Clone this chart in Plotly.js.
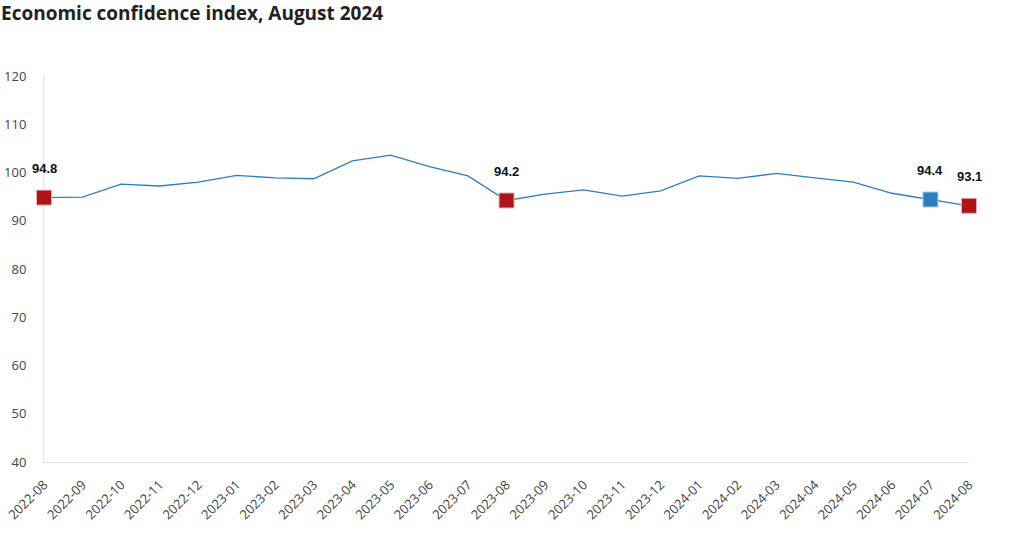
<!DOCTYPE html>
<html>
<head>
<meta charset="utf-8">
<script src="https://cdn.plot.ly/plotly-3.0.1.min.js"></script>
<style>html,body{margin:0;padding:0;background:#fff;}#chart{width:1010px;height:536px;}</style>
</head>
<body>
<div id="chart"></div>
<script>
const months = ["2022-08","2022-09","2022-10","2022-11","2022-12","2023-01","2023-02","2023-03","2023-04","2023-05","2023-06","2023-07","2023-08","2023-09","2023-10","2023-11","2023-12","2024-01","2024-02","2024-03","2024-04","2024-05","2024-06","2024-07","2024-08"];
const index = [94.8,94.9,97.6,97.2,98.0,99.4,98.9,98.7,102.4,103.6,101.2,99.3,94.2,95.5,96.4,95.1,96.2,99.3,98.8,99.8,98.9,98.0,95.7,94.4,93.1];
const redMonths = ["2022-08","2023-08","2024-08"];
const redValues = [94.8,94.2,93.1];
const blueMonths = ["2024-07"];
const blueValues = [94.4];
const yTicks = [40,50,60,70,80,90,100,110,120];

const lineColor = "#2F7EBF";
const redColor = "#AE1318";

const traces = [
  {x: months, y: index, type: "scatter", mode: "lines", line: {color: lineColor, width: 1.3}, cliponaxis: false},
  {x: redMonths, y: redValues, type: "scatter", mode: "markers", marker: {symbol: "square", size: 15, color: redColor, line: {color: "#e8b0b0", width: 1}}, cliponaxis: false},
  {x: blueMonths, y: blueValues, type: "scatter", mode: "markers", marker: {symbol: "square", size: 15, color: lineColor, line: {color: "#a9cbe6", width: 1}}, cliponaxis: false}
];

const labelX = redMonths.concat(blueMonths);
const labelY = redValues.concat(blueValues);
const annotations = labelX.map((m, i) => ({
  x: m, y: labelY[i], xref: "x", yref: "y",
  text: "<b>" + labelY[i].toFixed(1) + "</b>",
  showarrow: false, yshift: 29,
  font: {family: "Liberation Sans, Arial, sans-serif", size: 13, color: "#111"}
}));

const layout = {
  width: 1010, height: 536,
  margin: {l: 44, r: 41, t: 76, b: 74},
  paper_bgcolor: "#fff", plot_bgcolor: "#fff",
  showlegend: false,
  title: {text: "<b>Economic confidence index, August 2024</b>", x: 0.001, xanchor: "left", y: 0.987, yanchor: "top",
    font: {family: "Open Sans, Noto Sans, sans-serif", size: 19, color: "#222"}},
  xaxis: {type: "category", range: [0, 24], tickangle: -45, showgrid: false, zeroline: false,
    showline: true, linecolor: "#e3e3e3", linewidth: 1, ticks: "", layer: "below traces", ticklabelstandoff: 9,
    tickfont: {family: "Open Sans, Noto Sans, sans-serif", size: 13, color: "#444"}},
  yaxis: {range: [40, 120], tickvals: yTicks, showgrid: false, zeroline: false,
    showline: true, linecolor: "#e3e3e3", linewidth: 1, ticks: "", ticklabelstandoff: 14, layer: "below traces",
    tickfont: {family: "Open Sans, Noto Sans, sans-serif", size: 13, color: "#444"}},
  annotations: annotations
};

Plotly.newPlot("chart", traces, layout, {displayModeBar: false, staticPlot: true});
</script>
</body>
</html>
